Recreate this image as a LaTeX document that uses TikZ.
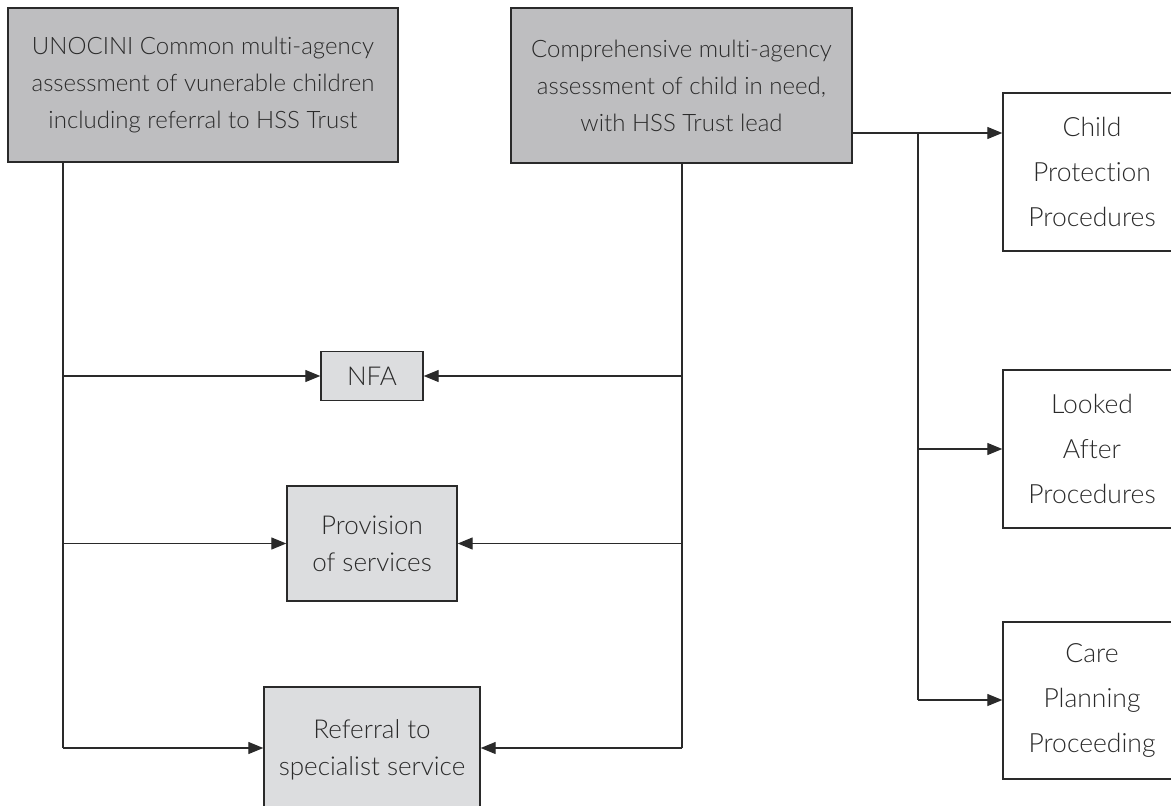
\documentclass[tikz,border=0pt]{standalone}
\usepackage{fontspec}
\setmainfont{Lato}[UprightFont=* Light, Ligatures=NoCommon]
\usetikzlibrary{arrows.meta}
\definecolor{txt}{HTML}{2A2A2A}
\definecolor{dark}{HTML}{BEBEC0}
\definecolor{light}{HTML}{DCDDDF}
\definecolor{ln}{HTML}{2A2A2A}
\tikzset{
  box/.style={draw=ln, line width=1.4pt, inner sep=0pt, align=center, text=txt,
    font=\fontsize{24}{37}\selectfont},
  topbox/.style={box, fill=dark},
  outbox/.style={box, fill=light, font=\fontsize{26}{37}\selectfont},
  sidebox/.style={box, fill=white, font=\fontsize{26.5}{45}\selectfont},
  conn/.style={draw=ln, line width=1.3pt},
  arr/.style={conn, -{Triangle[length=15pt,width=12pt]}},
}
\begin{document}
\begin{tikzpicture}[x=1pt,y=1pt]
\path[use as bounding box, clip] (0,0) rectangle (1171,-806);
\fill[white] (0,0) rectangle (1171,-806);
% top boxes
\node[topbox, minimum width=390pt, minimum height=154pt] (b1) at (203,-85)
  {UNOCINI Common multi-agency\\assessment of vunerable children\\including referral to HSS Trust};
\node[topbox, minimum width=341pt, minimum height=155pt] (b2) at (681.5,-85.5)
  {Comprehensive multi-agency\\assessment of child in need,\\with HSS Trust lead};
% outcome boxes
\node[outbox, minimum width=102pt, minimum height=49pt] (nfa) at (372,-376) {NFA};
\node[outbox, minimum width=170pt, minimum height=115pt] (prov) at (372,-543.5) {Provision\\of services};
\node[outbox, minimum width=216pt, minimum height=126pt] (ref) at (372,-750) {Referral to\\specialist service};
% side boxes
\node[sidebox, minimum width=178pt, minimum height=158pt] (cp) at (1092,-172) {Child\\Protection\\Procedures};
\node[sidebox, minimum width=178pt, minimum height=158pt] (la) at (1092,-449) {Looked\\After\\Procedures};
\node[sidebox, minimum width=178pt, minimum height=157pt] (care) at (1092,-700.5) {Care\\Planning\\Proceeding};
% junction coordinates
\coordinate (l1) at (63,-748);
\coordinate (r1) at (682,-748);
\coordinate (s1) at (918,-700);
\coordinate (h1) at (852,-133);
% left trunk
\draw[conn] (b1.south -| l1) -- (l1);
\draw[arr] (l1 |- nfa) -- (nfa.west);
\draw[arr] (l1 |- prov) -- (prov.west);
\draw[arr] (l1) -- (ref.west |- l1);
% right trunk from b2
\draw[conn] (b2.south -| r1) -- (r1);
\draw[arr] (r1 |- nfa) -- (nfa.east);
\draw[arr] (r1 |- prov) -- (prov.east);
\draw[arr] (r1) -- (ref.east |- r1);
% side branch
\draw[arr] (h1) -- (cp.west |- h1);
\draw[conn] (s1 |- h1) -- (s1);
\draw[arr] (s1 |- la) -- (la.west);
\draw[arr] (s1) -- (care.west |- s1);
\end{tikzpicture}
\end{document}
